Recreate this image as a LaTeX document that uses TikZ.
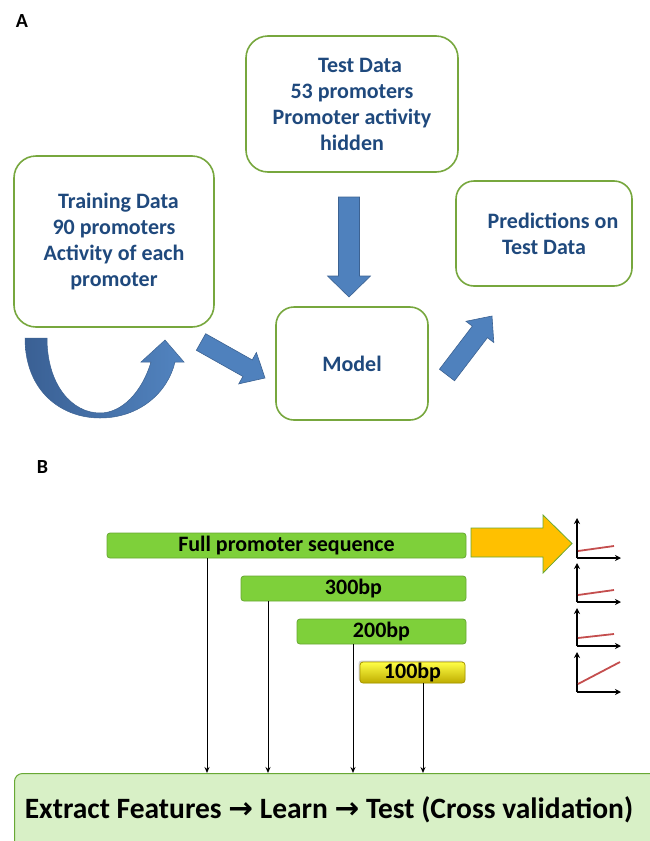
\documentclass[tikz,border=0pt]{standalone}
\usepackage{fontspec}
\setmainfont{Carlito}
\newfontfamily\arrowfont{DejaVu Sans}
\usetikzlibrary{calc,arrows.meta,shadows}
\definecolor{boxgreen}{RGB}{119,167,62}
\definecolor{txtblue}{RGB}{31,73,125}
\definecolor{arrfill}{RGB}{79,129,189}
\definecolor{arrdraw}{RGB}{60,98,146}
\definecolor{udark}{RGB}{58,96,148}
\definecolor{ulight}{RGB}{82,132,192}
\definecolor{bargreen}{RGB}{126,208,58}
\definecolor{barborder}{RGB}{104,168,52}
\definecolor{lightgreen}{RGB}{216,240,198}
\definecolor{arrorange}{RGB}{255,192,0}
\definecolor{redline}{RGB}{196,78,78}
\definecolor{ytop}{RGB}{255,255,70}
\definecolor{ybot}{RGB}{190,172,0}
\definecolor{yborder}{RGB}{170,150,0}
\newcommand{\blockarrow}[5]{%
  \coordinate (bah) at ($(#2)!#5!(#1)$);
  \filldraw[blockarr] ($(#1)!#3!90:(#2)$) -- ($(bah)!#3!-90:(#1)$) -- ($(bah)!#4!-90:(#1)$) -- (#2) -- ($(bah)!#4!90:(#1)$) -- ($(bah)!#3!90:(#1)$) -- ($(#1)!#3!-90:(#2)$) -- cycle;}
\begin{document}
\begin{tikzpicture}[x=1pt,y=-1pt,
  rbox/.style={draw=boxgreen, line width=1.6pt, rounded corners=22pt, fill=white, align=center, text=txtblue, font=\fontsize{22}{26}\selectfont\bfseries, inner sep=0pt},
  bar/.style={draw=barborder, line width=0.8pt, fill=bargreen, rounded corners=3pt, inner sep=0pt, font=\fontsize{22}{24}\selectfont\bfseries},
  blockarr/.style={fill=arrfill, draw=arrdraw, line width=0.6pt},
  axis/.style={-{Stealth[length=6pt,width=6pt]}, line width=1.2pt},
  trend/.style={draw=redline, line width=1.8pt},
  drop/.style={-{Stealth[length=6pt,width=5pt]}, line width=1pt},
  lbl/.style={font=\fontsize{20}{22}\selectfont\bfseries, inner sep=0pt}
]
\useasboundingbox (0,0) rectangle (650,841);
% panel labels
\node[lbl] (labA) at (22,21) {A};
\node[lbl] (labB) at (42.5,467.5) {B};
% panel A boxes
\node[rbox, minimum width=212pt, minimum height=136pt] (test) at (352,104) {\hspace*{16pt}Test Data\\53 promoters\\Promoter activity\\hidden};
\node[rbox, minimum width=200pt, minimum height=171pt] (train) at (114,241.5) {\hspace*{9pt}Training Data\\90 promoters\\Activity of each\\promoter};
\node[rbox, minimum width=176pt, minimum height=105pt, rounded corners=18pt] (pred) at (544,233.5) {\hspace*{18pt}Predictions on\\Test Data};
\node[rbox, minimum width=152pt, minimum height=113pt, rounded corners=18pt] (model) at (352,363.5) {Model};
% block arrows
\coordinate (d1s) at (349,197); \coordinate (d1e) at (349,297);
\blockarrow{d1s}{d1e}{10.5pt}{21.5pt}{21pt}
\coordinate (a1s) at (201,342); \coordinate (a1e) at (265,378);
\blockarrow{a1s}{a1e}{9.5pt}{18pt}{20pt}
\coordinate (a2s) at (447,375); \coordinate (a2e) at (492,316);
\blockarrow{a2s}{a2e}{9.5pt}{17.5pt}{20pt}
% U-turn arrow
\path[left color=udark, right color=ulight, draw=arrdraw, line width=0.5pt]
  (25,338) .. controls (25,392) and (62,418) .. (100,418)
  .. controls (140,418) and (168,392) .. (175,362)
  -- (184,362) -- (165,340) -- (141,362) -- (151,362)
  .. controls (142,392) and (122,413) .. (100,413)
  .. controls (72,413) and (47,385) .. (47,338) -- cycle;
% panel B bars
\node[bar, minimum width=359pt, minimum height=25pt] (full) at (286.5,545.5) {Full promoter sequence};
\node[bar, minimum width=225pt, minimum height=25pt] (b300) at (353.5,588.5) {300bp};
\node[bar, minimum width=169pt, minimum height=25pt] (b200) at (381.5,631.5) {200bp};
\node[bar, draw=yborder, top color=ytop, bottom color=ybot, minimum width=105pt, minimum height=21pt,
      drop shadow={shadow xshift=-1.5pt, shadow yshift=1.5pt, opacity=0.35}] (b100) at (412.5,672.5) {100bp};
% orange arrow
\filldraw[fill=arrorange, draw=barborder, line width=0.8pt]
  (471,528) -- (543,528) -- (543,515) -- (572,543.5) -- (543,573) -- (543,557) -- (471,557) -- cycle;
% mini graphs
\foreach \top/\hor/\ra/\rbx/\rby in {518/558/551/614/546, 563/602/595/614/590, 608/646/638/614/634, 652/692/684/620/662}{
  \draw[axis] (577,\hor) -- (577,\top);
  \draw[axis] (577,\hor) -- (621,\hor);
  \draw[trend] (578,\ra) -- (\rbx,\rby);
}
% bottom box
\node[draw=barborder, fill=lightgreen, line width=1pt, rounded corners=8pt, minimum width=660pt, minimum height=100pt, anchor=north west, inner sep=0pt] (feat) at (14,773) {};
\node[font=\fontsize{29.5}{32}\selectfont\bfseries, inner sep=0pt] (feattext) at (329,810) {Extract Features {\arrowfont\bfseries →} Learn {\arrowfont\bfseries →} Test (Cross validation)};
% drop lines
\coordinate (x1) at (207,0); \coordinate (x2) at (268,0); \coordinate (x3) at (353,0); \coordinate (x4) at (423,0);
\draw[drop] (full.south -| x1) -- (feat.north -| x1);
\draw[drop] (b300.south -| x2) -- (feat.north -| x2);
\draw[drop] (b200.south -| x3) -- (feat.north -| x3);
\draw[drop] (b100.south -| x4) -- (feat.north -| x4);
\end{tikzpicture}
\end{document}
